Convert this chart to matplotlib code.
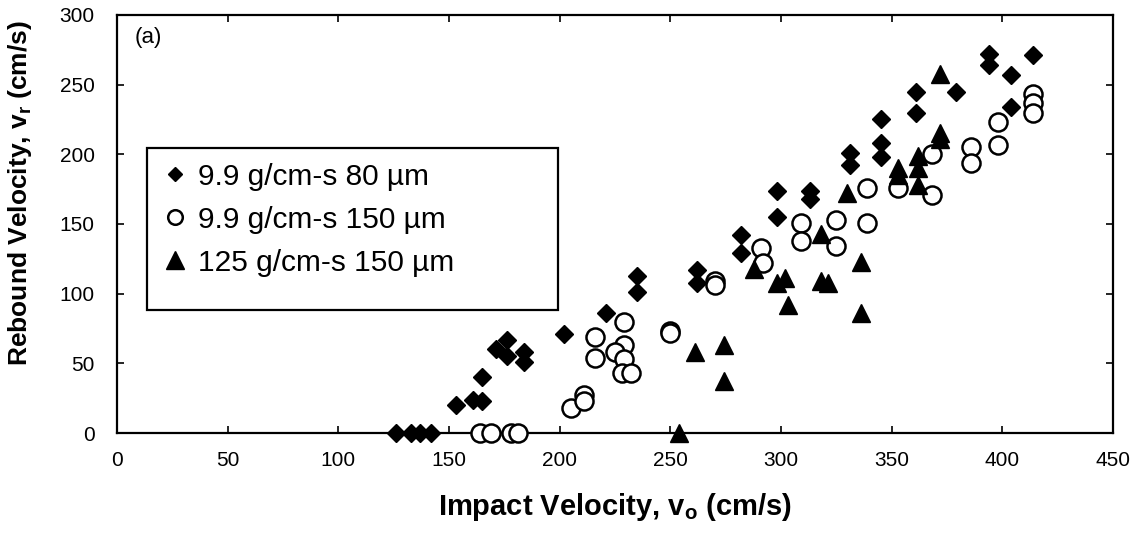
# Rebound vs impact velocity scatter, panel (a)
import matplotlib
matplotlib.use("Agg")
import matplotlib.pyplot as plt
import matplotlib.patches as mpatches

plt.rcParams["font.family"] = ["Liberation Sans", "DejaVu Sans"]
plt.rcParams["mathtext.fontset"] = "custom"
plt.rcParams["mathtext.rm"] = "Liberation Sans:bold"
plt.rcParams["mathtext.bf"] = "Liberation Sans:bold"
plt.rcParams["mathtext.it"] = "Liberation Sans:bold"

# 9.9 g/cm-s, 80 um particles (filled diamonds)
d80_x = [126, 133, 137, 142, 153, 161, 165, 165, 171, 176, 176, 184, 184,
         202, 221, 235, 235, 262, 262, 282, 282, 298, 298, 313, 313,
         331, 331, 345, 345, 345, 361, 361, 379, 394, 394, 404, 404, 414]
d80_y = [0, 0, 0, 0, 20, 24, 23, 40, 60, 67, 55, 58, 51,
         71, 86, 113, 101, 117, 108, 142, 129, 174, 155, 174, 168,
         201, 192, 225, 208, 198, 245, 230, 245, 272, 264, 257, 234, 271]

# 9.9 g/cm-s, 150 um particles (open circles)
c150_x = [164, 169, 178, 181, 205, 211, 211, 216, 216, 229, 229, 225, 229, 228, 232,
          250, 250, 270, 270, 291, 292, 309, 309, 325, 325,
          339, 339, 353, 368, 368, 386, 386, 398, 398, 414, 414, 414]
c150_y = [0, 0, 0, 0, 18, 27, 23, 69, 54, 80, 63, 58, 53, 43, 43,
          73, 72, 109, 106, 133, 122, 151, 138, 153, 134,
          176, 151, 176, 200, 171, 205, 194, 223, 207, 243, 237, 230]

# 125 g/cm-s, 150 um particles (filled triangles)
t150_x = [254, 261, 274, 274, 288, 298, 302, 303, 318, 318, 321, 336, 336,
          330, 353, 353, 362, 362, 362, 372, 372, 372]
t150_y = [0, 58, 63, 37, 118, 108, 111, 92, 143, 109, 108, 123, 86,
          172, 190, 185, 199, 190, 178, 215, 211, 258]

labels = ["9.9 g/cm-s 80 \u00b5m", "9.9 g/cm-s 150 \u00b5m", "125 g/cm-s 150 \u00b5m"]
x_ticks = [0, 50, 100, 150, 200, 250, 300, 350, 400, 450]
y_ticks = [0, 50, 100, 150, 200, 250, 300]

fig = plt.figure(figsize=(11.43, 5.33), dpi=100)
ax = fig.add_axes([0.1024, 0.1876, 0.8714, 0.7843])

ax.plot(d80_x, d80_y, "D", color="black", markersize=9.5, linestyle="none",
        label=labels[0], clip_on=False, zorder=3)
ax.plot(c150_x, c150_y, "o", markerfacecolor="white", markeredgecolor="black",
        markeredgewidth=1.8, markersize=13, linestyle="none", label=labels[1],
        clip_on=False, zorder=3)
ax.plot(t150_x, t150_y, "^", color="black", markersize=13.5, linestyle="none",
        label=labels[2], clip_on=False, zorder=3)

ax.set_xlim(0, 450)
ax.set_ylim(0, 300)
ax.set_xticks(x_ticks)
ax.set_yticks(y_ticks)
ax.tick_params(direction="in", top=True, right=True, length=5, width=1.2,
               labelsize=15)
ax.tick_params(axis="x", pad=13)
ax.tick_params(axis="y", pad=16)
for sp in ax.spines.values():
    sp.set_linewidth(1.6)

ax.set_xlabel(r"Impact Velocity, v$_{\mathbf{o}}$ (cm/s)", fontsize=21,
              fontweight="bold", labelpad=15)
ax.set_ylabel(r"Rebound Velocity, v$_{\mathbf{r}}$ (cm/s)", fontsize=19,
              fontweight="bold")
ax.yaxis.set_label_coords(-0.083, 0.575)

ax.text(0.018, 0.945, "(a)", transform=ax.transAxes, fontsize=16,
        ha="left", va="center")

# Legend box drawn separately so it can be wider than its text
box = mpatches.Rectangle((0.030, 0.294), 0.413, 0.388, transform=ax.transAxes,
                         facecolor="white", edgecolor="black", linewidth=1.6,
                         zorder=4)
ax.add_patch(box)
leg = ax.legend(loc="upper left", bbox_to_anchor=(0.033, 0.675), frameon=False,
                fontsize=21.5, handlelength=0.9, handletextpad=0.3,
                labelspacing=0.5, borderaxespad=0)
leg.set_zorder(5)
hs = leg.legend_handles
hs[0].set_markersize(7.5)
hs[1].set_markersize(10.5)
hs[2].set_markersize(13.5)

fig.savefig("out.png", dpi=100)
